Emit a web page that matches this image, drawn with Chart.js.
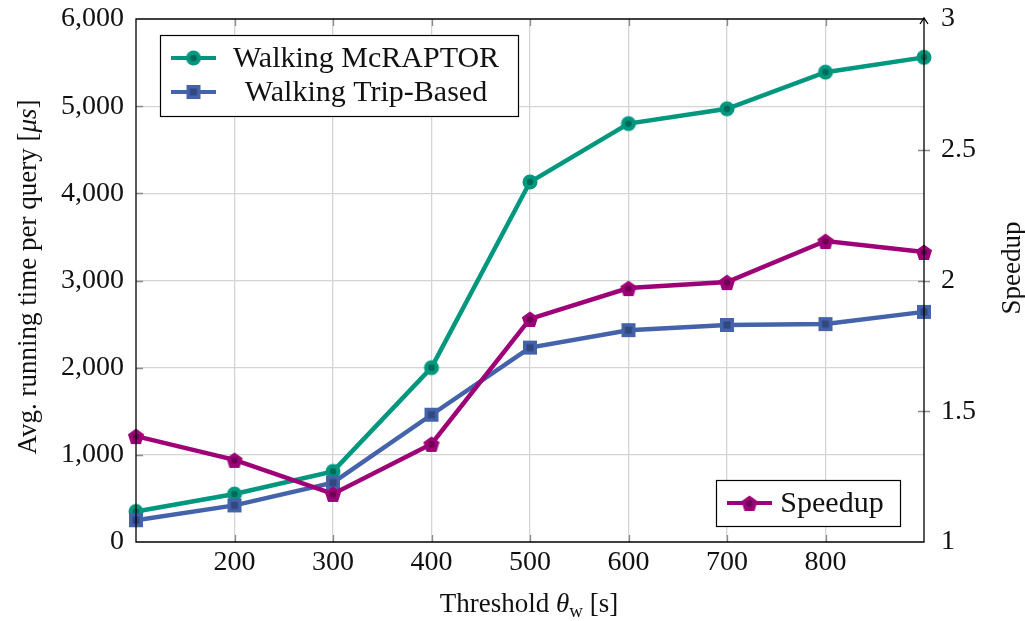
<!DOCTYPE html>
<html>
<head>
<meta charset="utf-8">
<script src="https://cdn.jsdelivr.net/npm/chart.js"></script>
<style>
  html, body { margin: 0; padding: 0; background: #fff; }
  #wrap { width: 1025px; height: 621px; }
</style>
</head>
<body>
<div id="wrap"><canvas id="mychart" width="1025" height="621"></canvas></div>
<script>
const thresholds = [100, 200, 300, 400, 500, 600, 700, 800, 900];
const mcraptor = [350, 550, 810, 2000, 4130, 4800, 4970, 5390, 5560];
const tripBased = [250, 420, 680, 1460, 2230, 2430, 2490, 2500, 2640];
const speedup = [1.405, 1.314, 1.184, 1.375, 1.853, 1.971, 1.994, 2.151, 2.109];
const xTicks = [200, 300, 400, 500, 600, 700, 800];

const GREEN = "#00977f";
const BLUE = "#4563ab";
const MAGENTA = "#9e0078";
const FONT = "'Liberation Serif', serif";

function marker(kind, color, dark) {
  const c = document.createElement("canvas");
  const s = kind === "square" ? 16 : 18;
  c.width = s; c.height = s;
  const g = c.getContext("2d");
  g.fillStyle = color;
  const m = s / 2;
  g.beginPath();
  if (kind === "circle") {
    g.arc(m, m, 7.5, 0, Math.PI * 2);
  } else if (kind === "square") {
    g.rect(1, 1, 14, 14);
  } else {
    for (let i = 0; i < 5; i++) {
      const a = -Math.PI / 2 + i * 2 * Math.PI / 5;
      const px = m + 8.5 * Math.cos(a), py = m + 1 + 8.5 * Math.sin(a);
      i ? g.lineTo(px, py) : g.moveTo(px, py);
    }
    g.closePath();
  }
  g.fill();
  g.fillStyle = dark;
  g.beginPath();
  if (kind === "square") g.rect(m - 3.5, m - 3.5, 7, 7);
  else g.arc(m, kind === "circle" ? m : m + 0.5, 3.2, 0, Math.PI * 2);
  g.fill();
  return c;
}

const mkGreen = marker("circle", GREEN, "#006a58");
const mkBlue = marker("square", BLUE, "#31487e");
const mkMag = marker("pentagon", MAGENTA, "#6e0054");

const toXY = (arr) => arr.map((v, i) => ({ x: thresholds[i], y: v }));

const decor = {
  id: "decor",
  afterDraw(chart) {
    const g = chart.ctx;
    const a = chart.chartArea;
    const x = chart.scales.x, y = chart.scales.y, y1 = chart.scales.y1;
    g.save();
    // inner tick marks
    g.strokeStyle = "#8a8a8a";
    g.lineWidth = 1.3;
    g.beginPath();
    xTicks.forEach(t => {
      const px = Math.round(x.getPixelForValue(t)) + 0.5;
      g.moveTo(px, a.bottom); g.lineTo(px, a.bottom - 7);
      g.moveTo(px, a.top); g.lineTo(px, a.top + 7);
    });
    [1000, 2000, 3000, 4000, 5000].forEach(t => {
      const py = Math.round(y.getPixelForValue(t)) + 0.5;
      g.moveTo(a.left, py); g.lineTo(a.left + 7, py);
    });
    [1.5, 2, 2.5].forEach(t => {
      const py = Math.round(y1.getPixelForValue(t)) + 0.5;
      g.moveTo(a.right - 6, py); g.lineTo(a.right + 6, py);
    });
    g.stroke();
    // frame
    g.strokeStyle = "#000";
    g.lineWidth = 1.3;
    g.beginPath();
    g.moveTo(a.right, a.top); g.lineTo(a.left, a.top);
    g.lineTo(a.left, a.bottom); g.lineTo(a.right, a.bottom);
    g.lineTo(a.right, a.top - 1);
    g.stroke();
    // arrow head on right axis
    g.beginPath();
    g.moveTo(a.right - 4, a.top + 5); g.lineTo(a.right, a.top - 1); g.lineTo(a.right + 4, a.top + 5);
    g.stroke();

    // axis titles
    g.fillStyle = "#111";
    g.textBaseline = "alphabetic";
    const parts = [["Threshold ", "27px " + FONT, 0], ["θ", "italic 27px " + FONT, 0], ["w", "19px " + FONT, 5], [" [s]", "27px " + FONT, 0]];
    let tw = 0;
    parts.forEach(p => { g.font = p[1]; tw += g.measureText(p[0]).width; });
    let cx = 529 - tw / 2;
    parts.forEach(p => { g.font = p[1]; g.fillText(p[0], cx, 612 + p[2]); cx += g.measureText(p[0]).width; });

    g.save();
    g.translate(36, 277);
    g.rotate(-Math.PI / 2);
    const lp = [["Avg. running time per query [", "27px " + FONT], ["μs", "italic 27px " + FONT], ["]", "27px " + FONT]];
    tw = 0;
    lp.forEach(p => { g.font = p[1]; tw += g.measureText(p[0]).width; });
    cx = -tw / 2;
    lp.forEach(p => { g.font = p[1]; g.fillText(p[0], cx, 0); cx += g.measureText(p[0]).width; });
    g.restore();

    g.save();
    g.translate(1020, 268);
    g.rotate(-Math.PI / 2);
    g.font = "27px " + FONT;
    g.textAlign = "center";
    g.fillText("Speedup", 0, 0);
    g.restore();

    // legends
    function box(x0, y0, x1, y1b) {
      g.fillStyle = "#fff";
      g.fillRect(x0, y0, x1 - x0, y1b - y0);
      g.strokeStyle = "#000";
      g.lineWidth = 1.2;
      g.strokeRect(x0 + 0.5, y0 + 0.5, x1 - x0, y1b - y0);
    }
    function entry(lx, ly, color, mk, label, tx) {
      g.strokeStyle = color;
      g.lineWidth = 4;
      g.beginPath(); g.moveTo(lx, ly); g.lineTo(lx + 45, ly); g.stroke();
      g.drawImage(mk, lx + 22.5 - mk.width / 2, ly - mk.height / 2);
      g.fillStyle = "#111";
      g.font = "30px " + FONT;
      g.textAlign = "center";
      g.textBaseline = "middle";
      g.fillText(label, tx, ly + 1);
    }
    box(160, 35, 518, 116);
    entry(171, 58, GREEN, mkGreen, "Walking McRAPTOR", 366);
    entry(171, 92, BLUE, mkBlue, "Walking Trip-Based", 366);
    box(716, 480, 900, 526);
    entry(727, 503, MAGENTA, mkMag, "Speedup", 832);
    g.restore();
  }
};

const tickFont = { family: FONT, size: 28 };
const noPad = (s) => { s.paddingTop = 0; s.paddingBottom = 0; s.paddingLeft = 0; s.paddingRight = 0; };

const config = {
  type: "line",
  data: {
    datasets: [
      {
        label: "Walking McRAPTOR",
        data: toXY(mcraptor),
        borderColor: GREEN,
        backgroundColor: GREEN,
        borderWidth: 4.5,
        pointStyle: mkGreen,
        yAxisID: "y",
        order: 2,
      },
      {
        label: "Walking Trip-Based",
        data: toXY(tripBased),
        borderColor: BLUE,
        backgroundColor: BLUE,
        borderWidth: 4.5,
        pointStyle: mkBlue,
        yAxisID: "y",
        order: 1,
      },
      {
        label: "Speedup",
        data: toXY(speedup),
        borderColor: MAGENTA,
        backgroundColor: MAGENTA,
        borderWidth: 4.5,
        pointStyle: mkMag,
        yAxisID: "y1",
        order: 0,
      },
    ],
  },
  options: {
    responsive: false,
    animation: false,
    clip: false,
    layout: { padding: { top: 19, left: 0, right: 0, bottom: 0 } },
    plugins: { legend: { display: false }, tooltip: { enabled: false } },
    scales: {
      x: {
        type: "linear",
        min: 100,
        max: 900,
        afterBuildTicks: (s) => { s.ticks = xTicks.map(v => ({ value: v })); },
        afterFit: (s) => { s.height = 79; noPad(s); },
        ticks: { font: tickFont, color: "#111", padding: 4, maxRotation: 0 },
        grid: { color: "#d4d4d4", lineWidth: 1.3, drawTicks: false },
        border: { display: false },
      },
      y: {
        min: 0,
        max: 6000,
        afterFit: (s) => { s.width = 136; noPad(s); },
        ticks: {
          stepSize: 1000,
          font: tickFont,
          color: "#111",
          padding: 12,
          callback: (v) => v.toLocaleString("en-US"),
        },
        grid: { color: (c) => (c.tick.value === 0 || c.tick.value === 6000 ? "rgba(0,0,0,0)" : "#d4d4d4"), lineWidth: 1.3, drawTicks: false },
        border: { display: false },
      },
      y1: {
        position: "right",
        min: 1,
        max: 3,
        afterFit: (s) => { s.width = 101; noPad(s); },
        ticks: { stepSize: 0.5, font: tickFont, color: "#111", padding: 17, callback: (v) => String(v) },
        grid: { drawOnChartArea: false, drawTicks: false },
        border: { display: false },
      },
    },
  },
  plugins: [decor],
};

const myChart = new Chart(document.getElementById("mychart").getContext("2d"), config);
</script>
</body>
</html>
